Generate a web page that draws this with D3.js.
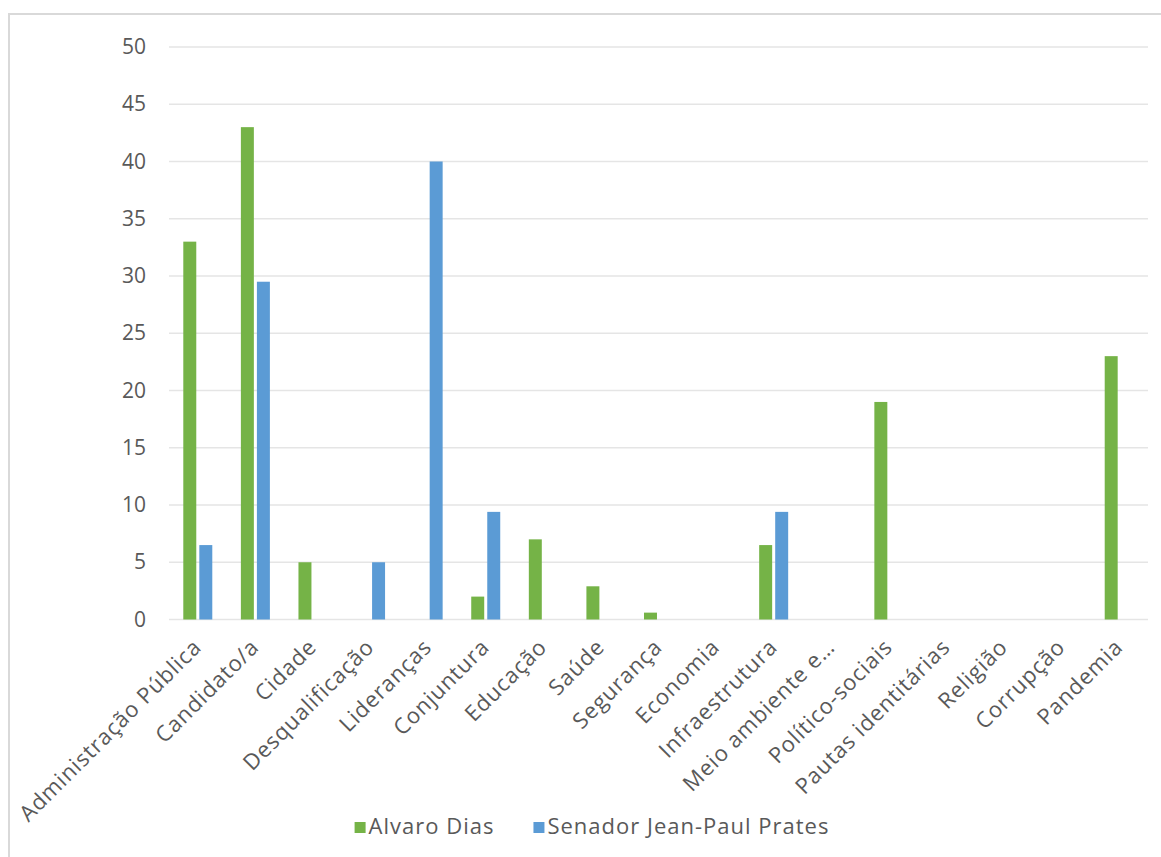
<!DOCTYPE html>
<html>
<head>
<meta charset="utf-8">
<script src="https://cdn.jsdelivr.net/npm/d3@7"></script>
<style>
  html, body { margin: 0; padding: 0; background: #ffffff; }
  svg { display: block; }
  text { font-family: "Open Sans", "Lato", sans-serif; fill: #595959; }
</style>
</head>
<body>
<svg id="chart" width="1161" height="857"></svg>
<script>
const categories = ["Administração Pública", "Candidato/a", "Cidade", "Desqualificação", "Lideranças", "Conjuntura", "Educação", "Saúde", "Segurança", "Economia", "Infraestrutura", "Meio ambiente e…", "Político-sociais", "Pautas identitárias", "Religião", "Corrupção", "Pandemia"];
const seriesNames = ["Alvaro Dias", "Senador Jean-Paul Prates"];
const alvaroDias = [33, 43, 5, 0, 0, 2, 7, 2.9, 0.6, 0, 6.5, 0, 19, 0, 0, 0, 23];
const jeanPaulPrates = [6.5, 29.5, 0, 5, 40, 9.4, 0, 0, 0, 0, 9.4, 0, 0, 0, 0, 0, 0];
const yTicks = [0, 5, 10, 15, 20, 25, 30, 35, 40, 45, 50];
const colors = ["#75b347", "#5b9bd5"];

const svg = d3.select("#chart");

// outer chart border (top and left visible)
svg.append("rect")
  .attr("x", 9).attr("y", 14)
  .attr("width", 1180).attr("height", 880)
  .attr("fill", "none")
  .attr("stroke", "#d9d9d9")
  .attr("stroke-width", 2);

const plotLeft = 169, plotRight = 1148, plotTop = 47, plotBottom = 619.5;

const x0 = d3.scaleBand().domain(categories).range([plotLeft, plotRight]).padding(0);
const half = x0.bandwidth() / 2;
const x1 = d3.scaleBand().domain(seriesNames).range([half - 14.5, half + 14.5]).paddingInner(0.19);
const y = d3.scaleLinear().domain([0, 50]).range([plotBottom, plotTop]);

// gridlines
svg.append("g")
  .selectAll("line")
  .data(yTicks)
  .join("line")
  .attr("x1", plotLeft).attr("x2", plotRight)
  .attr("y1", d => y(d)).attr("y2", d => y(d))
  .attr("stroke", "#e5e5e5")
  .attr("stroke-width", 1.5);

// y axis labels
const yAxis = d3.axisLeft(y).tickValues(yTicks).tickSize(0).tickPadding(0);
const yg = svg.append("g").attr("transform", `translate(${plotLeft - 23},0)`).call(yAxis);
yg.select(".domain").remove();
yg.selectAll("text")
  .style("font-family", '"Open Sans", sans-serif')
  .style("font-size", "21px")
  .attr("fill", "#595959");

// bars
const rows = categories.map((c, i) => ({ cat: c, vals: [alvaroDias[i], jeanPaulPrates[i]] }));
const groups = svg.append("g")
  .selectAll("g")
  .data(rows)
  .join("g")
  .attr("transform", d => `translate(${x0(d.cat)},0)`);

groups.selectAll("rect")
  .data(d => d.vals.map((v, j) => ({ name: seriesNames[j], v, j })))
  .join("rect")
  .attr("x", d => x1(d.name))
  .attr("width", x1.bandwidth())
  .attr("y", d => y(d.v))
  .attr("height", d => y(0) - y(d.v))
  .attr("fill", d => colors[d.j]);

// x axis category labels (rotated)
const xAxis = d3.axisBottom(x0).tickSize(0).tickPadding(0);
const xg = svg.append("g").attr("transform", `translate(0,${plotBottom})`).call(xAxis);
xg.select(".domain").remove();
xg.selectAll(".tick text")
  .style("font-family", '"Open Sans", sans-serif')
  .style("font-size", "22px")
  .style("letter-spacing", "0.9px")
  .attr("fill", "#595959")
  .attr("text-anchor", "end")
  .attr("dy", null)
  .attr("y", 0)
  .attr("transform", "translate(5,29) rotate(-45)");

// legend
const legend = svg.append("g").attr("class", "legend");
const legendItems = legend.selectAll("g")
  .data(seriesNames)
  .join("g");
legendItems.append("rect")
  .attr("width", 11).attr("height", 11)
  .attr("y", -11)
  .attr("fill", (d, i) => colors[i]);
legendItems.append("text")
  .attr("x", 14)
  .attr("y", 1)
  .style("font-size", "22px")
  .style("letter-spacing", "1px")
  .text(d => d);

const widths = [];
legendItems.each(function () {
  const w = 14 + this.querySelector("text").getComputedTextLength();
  widths.push(w);
});
const gap = 39;
const total = widths.reduce((a, b) => a + b, 0) + gap * (widths.length - 1);
const start = 592 - total / 2;
legendItems.attr("transform", (d, i) => {
  const xPos = start + widths.slice(0, i).reduce((a, b) => a + b, 0) + gap * i;
  return `translate(${xPos},833)`;
});
</script>
</body>
</html>
